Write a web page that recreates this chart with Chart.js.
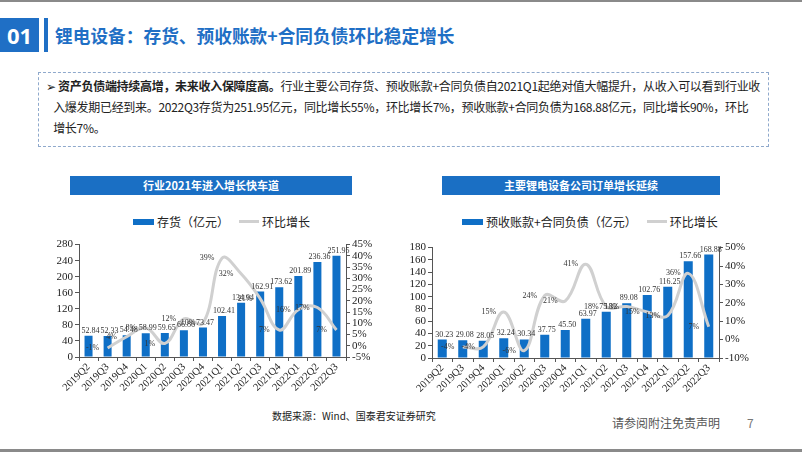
<!DOCTYPE html>
<html>
<head>
<meta charset="utf-8">
<script src="https://cdn.jsdelivr.net/npm/chart.js@4"></script>
<style>
body { margin: 0; width: 802px; height: 452px; position: relative; background: #fff; overflow: hidden; font-family: "Noto Sans CJK SC", sans-serif; }
.abs { position: absolute; }
#topLine { left: 0; top: 0; width: 802px; height: 2px; background: #8a8a8a; }
#bottomLine { left: 0; top: 449px; width: 802px; height: 3px; background: #8a8a8a; }
#num { left: 0; top: 18px; width: 39px; height: 34px; background: #1f6fc5; color: #fff; font: bold 22px "Noto Sans", sans-serif; line-height: 34px; text-align: center; }
#numBar { left: 44px; top: 18px; width: 4px; height: 34px; background: #1f6fc5; }
#title { left: 55px; top: 18px; line-height: 34px; font-size: 17.7px; font-weight: bold; color: #1f6fc5; white-space: nowrap; }
#box { left: 38px; top: 72px; width: 729px; height: 73px; border: 1px dashed #8fa9cc; }
#text { left: 46px; top: 75px; font-size: 12px; letter-spacing: -0.3px; line-height: 21px; color: #222; white-space: nowrap; }
#text b { font-weight: bold; }
.chartTitle { top: 176px; height: 19px; line-height: 19px; background: #1a6fc4; color: #fff; font-size: 11px; font-weight: bold; text-align: center; }
.legend { top: 211px; height: 18px; font-size: 12px; color: #222; white-space: nowrap; line-height: 18px; }
.legend span { display: inline-block; vertical-align: middle; }
.swBar { width: 21px; height: 6px; background: #0f6fc6; margin-right: 3px; }
.swLine { width: 20px; height: 3px; background: #d0d0d0; margin: 0 3px 0 10px; }
#src { left: 272px; top: 408px; font-size: 10px; color: #222; white-space: nowrap; }
#disc { left: 612px; top: 414px; font-size: 12px; color: #555; white-space: nowrap; }
#page { left: 747px; top: 414px; font-size: 12px; color: #777; }
canvas { position: absolute; }
</style>
</head>
<body>
<div id="topLine" class="abs"></div>
<div id="num" class="abs">01</div>
<div id="numBar" class="abs"></div>
<div id="title" class="abs">锂电设备：存货、预收账款+合同负债环比稳定增长</div>
<div id="box" class="abs"></div>
<div id="text" class="abs">➢ <b>资产负债端持续高增，未来收入保障度高。</b>行业主要公司存货、预收账款+合同负债自2021Q1起绝对值大幅提升，从收入可以看到行业收<br>&nbsp;&nbsp;&nbsp;入爆发期已经到来。2022Q3存货为251.95亿元，同比增长55%，环比增长7%，预收账款+合同负债为168.88亿元，同比增长90%，环比<br>&nbsp;&nbsp;&nbsp;增长7%。</div>

<div class="abs chartTitle" style="left:70px;width:282px;">行业2021年进入增长快车道</div>
<div class="abs chartTitle" style="left:442px;width:278px;">主要锂电设备公司订单增长延续</div>

<div class="abs legend" style="left:133px;"><span class="swBar"></span><span>存货（亿元）</span><span class="swLine"></span><span>环比增长</span></div>
<div class="abs legend" style="left:462px;"><span class="swBar"></span><span>预收账款+合同负债（亿元）</span><span class="swLine"></span><span>环比增长</span></div>

<canvas id="leftChart" width="350" height="164" style="left:30px;top:236px;"></canvas>
<canvas id="rightChart" width="360" height="161" style="left:400px;top:239px;"></canvas>

<div id="src" class="abs">数据来源：Wind、国泰君安证券研究</div>
<div id="disc" class="abs">请参阅附注免责声明</div>
<div id="page" class="abs">7</div>
<div id="bottomLine" class="abs"></div>

<script>
const quarters = ['2019Q2', '2019Q3', '2019Q4', '2020Q1', '2020Q2', '2020Q3', '2020Q4',
    '2021Q1', '2021Q2', '2021Q3', '2021Q4', '2022Q1', '2022Q2', '2022Q3'];

// 存货（亿元）及环比
const inventory = [52.84, 52.33, 54.48, 58.99, 59.65, 66.86, 73.47, 102.41, 134.94, 162.91, 173.62, 201.89, 236.36, 251.95];
const inventoryQoq = [null, -1, 4, 8, 1, 12, 10, 39, 32, 21, 7, 16, 17, 7];

// 预收账款+合同负债（亿元）及环比
const advances = [30.23, 29.08, 28.05, 32.24, 30.34, 37.75, 45.50, 63.97, 75.32, 89.08, 102.76, 116.25, 157.66, 168.88];
const advancesQoq = [null, -4, -4, 15, -6, 24, 21, 41, 18, 18, 15, 13, 36, 7];

const BLUE = '#0f6fc6';
const GREY_LINE = '#d0d0d0';
const SERIF = '"Liberation Serif", "Times New Roman", serif';

const valueLabels = {
    id: 'valueLabels',
    afterDatasetsDraw(chart) {
        const ctx = chart.ctx;
        ctx.save();
        ctx.font = '8px ' + SERIF;
        ctx.fillStyle = '#333';
        ctx.textAlign = 'center';
        chart.data.datasets.forEach((ds, i) => {
            const meta = chart.getDatasetMeta(i);
            meta.data.forEach((el, j) => {
                const v = ds.data[j];
                if (v === null) return;
                if (ds.type === 'line') {
                    ctx.textBaseline = 'middle';
                    ctx.fillText(v + '%', el.x - 15, el.y);
                } else {
                    ctx.textBaseline = 'bottom';
                    ctx.fillText(v.toFixed(2), el.x + 2, el.y - 1);
                }
            });
        });
        ctx.restore();
    }
};

function axisStyle(extra) {
    return Object.assign({
        grid: { drawOnChartArea: false, tickLength: 4, color: '#555' },
        border: { color: '#555' }
    }, extra);
}

function makeChart(id, bars, qoq, cfg) {
    const ctx = document.getElementById(id).getContext('2d');
    return new Chart(ctx, {
        data: {
            labels: quarters,
            datasets: [{
                type: 'line',
                data: qoq,
                yAxisID: 'y1',
                borderColor: GREY_LINE,
                borderWidth: 3,
                pointRadius: 0,
                tension: 0.4,
                order: 0
            }, {
                type: 'bar',
                data: bars,
                yAxisID: 'y',
                backgroundColor: BLUE,
                barPercentage: cfg.barPct,
                categoryPercentage: 1,
                order: 1
            }]
        },
        options: {
            responsive: false,
            animation: false,
            layout: { padding: { top: 5 } },
            plugins: { legend: { display: false }, tooltip: { enabled: false } },
            scales: {
                x: axisStyle({
                    ticks: { color: '#222', font: { family: SERIF, size: 10.5 }, maxRotation: 45, minRotation: 45, autoSkip: false, padding: 0 },
                    afterFit: s => { s.height = cfg.xHeight; }
                }),
                y: axisStyle({
                    position: 'left',
                    min: cfg.yMin, max: cfg.yMax,
                    ticks: { color: '#222', font: { family: SERIF, size: 11 }, stepSize: cfg.yStep, autoSkip: false, padding: 2 },
                    afterFit: s => { s.width = cfg.yWidth; }
                }),
                y1: axisStyle({
                    position: 'right',
                    min: cfg.pMin, max: cfg.pMax,
                    ticks: { color: '#222', font: { family: SERIF, size: 11 }, stepSize: cfg.pStep, autoSkip: false, padding: 2, callback: v => v + '%' },
                    afterFit: s => { s.width = cfg.pWidth; }
                })
            }
        },
        plugins: [valueLabels]
    });
}

makeChart('leftChart', inventory, inventoryQoq, {
    barPct: 0.42, xHeight: 43, yWidth: 49, pWidth: 34,
    yMin: 0, yMax: 280, yStep: 40, pMin: -5, pMax: 45, pStep: 5
});

makeChart('rightChart', advances, advancesQoq, {
    barPct: 0.44, xHeight: 42, yWidth: 32, pWidth: 41,
    yMin: 0, yMax: 180, yStep: 20, pMin: -10, pMax: 50, pStep: 10
});
</script>
</body>
</html>
